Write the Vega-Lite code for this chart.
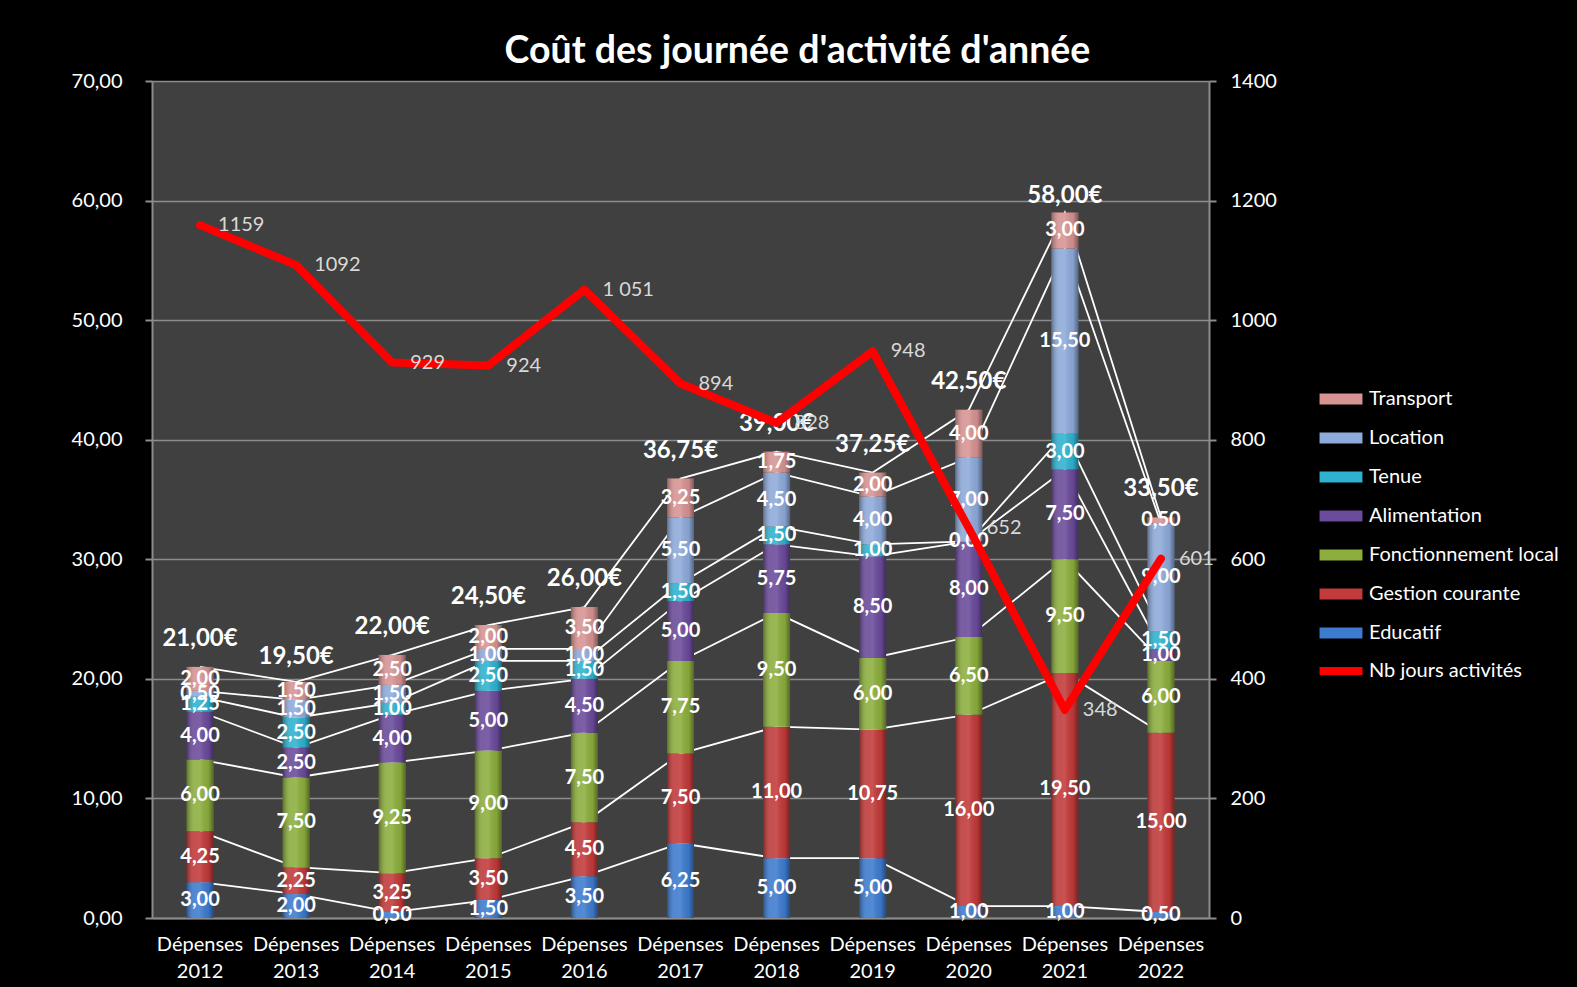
{
  "$schema": "https://vega.github.io/schema/vega-lite/v6.json",
  "width": 1057,
  "height": 837,
  "autosize": {"type": "none"},
  "padding": {"left": 152, "top": 81, "right": 368, "bottom": 69},
  "background": "#000000",
  "title": {
    "text": "Coût des journée d'activité d'année",
    "color": "#ffffff",
    "fontSize": 37.5,
    "fontWeight": "bold",
    "font": "Lato",
    "anchor": "middle",
    "frame": "group",
    "dx": 117,
    "dy": 31,
    "offset": 2,
    "baseline": "alphabetic"
  },
  "datasets": {
    "costs": [
      {"year": "Dépenses 2012", "cat": "Educatif", "k": 1, "v": 3.00},
      {"year": "Dépenses 2012", "cat": "Gestion courante", "k": 2, "v": 4.25},
      {"year": "Dépenses 2012", "cat": "Fonctionnement local", "k": 3, "v": 6.00},
      {"year": "Dépenses 2012", "cat": "Alimentation", "k": 4, "v": 4.00},
      {"year": "Dépenses 2012", "cat": "Tenue", "k": 5, "v": 1.25},
      {"year": "Dépenses 2012", "cat": "Location", "k": 6, "v": 0.50},
      {"year": "Dépenses 2012", "cat": "Transport", "k": 7, "v": 2.00},
      {"year": "Dépenses 2013", "cat": "Educatif", "k": 1, "v": 2.00},
      {"year": "Dépenses 2013", "cat": "Gestion courante", "k": 2, "v": 2.25},
      {"year": "Dépenses 2013", "cat": "Fonctionnement local", "k": 3, "v": 7.50},
      {"year": "Dépenses 2013", "cat": "Alimentation", "k": 4, "v": 2.50},
      {"year": "Dépenses 2013", "cat": "Tenue", "k": 5, "v": 2.50},
      {"year": "Dépenses 2013", "cat": "Location", "k": 6, "v": 1.50},
      {"year": "Dépenses 2013", "cat": "Transport", "k": 7, "v": 1.50},
      {"year": "Dépenses 2014", "cat": "Educatif", "k": 1, "v": 0.50},
      {"year": "Dépenses 2014", "cat": "Gestion courante", "k": 2, "v": 3.25},
      {"year": "Dépenses 2014", "cat": "Fonctionnement local", "k": 3, "v": 9.25},
      {"year": "Dépenses 2014", "cat": "Alimentation", "k": 4, "v": 4.00},
      {"year": "Dépenses 2014", "cat": "Tenue", "k": 5, "v": 1.00},
      {"year": "Dépenses 2014", "cat": "Location", "k": 6, "v": 1.50},
      {"year": "Dépenses 2014", "cat": "Transport", "k": 7, "v": 2.50},
      {"year": "Dépenses 2015", "cat": "Educatif", "k": 1, "v": 1.50},
      {"year": "Dépenses 2015", "cat": "Gestion courante", "k": 2, "v": 3.50},
      {"year": "Dépenses 2015", "cat": "Fonctionnement local", "k": 3, "v": 9.00},
      {"year": "Dépenses 2015", "cat": "Alimentation", "k": 4, "v": 5.00},
      {"year": "Dépenses 2015", "cat": "Tenue", "k": 5, "v": 2.50},
      {"year": "Dépenses 2015", "cat": "Location", "k": 6, "v": 1.00},
      {"year": "Dépenses 2015", "cat": "Transport", "k": 7, "v": 2.00},
      {"year": "Dépenses 2016", "cat": "Educatif", "k": 1, "v": 3.50},
      {"year": "Dépenses 2016", "cat": "Gestion courante", "k": 2, "v": 4.50},
      {"year": "Dépenses 2016", "cat": "Fonctionnement local", "k": 3, "v": 7.50},
      {"year": "Dépenses 2016", "cat": "Alimentation", "k": 4, "v": 4.50},
      {"year": "Dépenses 2016", "cat": "Tenue", "k": 5, "v": 1.50},
      {"year": "Dépenses 2016", "cat": "Location", "k": 6, "v": 1.00},
      {"year": "Dépenses 2016", "cat": "Transport", "k": 7, "v": 3.50},
      {"year": "Dépenses 2017", "cat": "Educatif", "k": 1, "v": 6.25},
      {"year": "Dépenses 2017", "cat": "Gestion courante", "k": 2, "v": 7.50},
      {"year": "Dépenses 2017", "cat": "Fonctionnement local", "k": 3, "v": 7.75},
      {"year": "Dépenses 2017", "cat": "Alimentation", "k": 4, "v": 5.00},
      {"year": "Dépenses 2017", "cat": "Tenue", "k": 5, "v": 1.50},
      {"year": "Dépenses 2017", "cat": "Location", "k": 6, "v": 5.50},
      {"year": "Dépenses 2017", "cat": "Transport", "k": 7, "v": 3.25},
      {"year": "Dépenses 2018", "cat": "Educatif", "k": 1, "v": 5.00},
      {"year": "Dépenses 2018", "cat": "Gestion courante", "k": 2, "v": 11.00},
      {"year": "Dépenses 2018", "cat": "Fonctionnement local", "k": 3, "v": 9.50},
      {"year": "Dépenses 2018", "cat": "Alimentation", "k": 4, "v": 5.75},
      {"year": "Dépenses 2018", "cat": "Tenue", "k": 5, "v": 1.50},
      {"year": "Dépenses 2018", "cat": "Location", "k": 6, "v": 4.50},
      {"year": "Dépenses 2018", "cat": "Transport", "k": 7, "v": 1.75},
      {"year": "Dépenses 2019", "cat": "Educatif", "k": 1, "v": 5.00},
      {"year": "Dépenses 2019", "cat": "Gestion courante", "k": 2, "v": 10.75},
      {"year": "Dépenses 2019", "cat": "Fonctionnement local", "k": 3, "v": 6.00},
      {"year": "Dépenses 2019", "cat": "Alimentation", "k": 4, "v": 8.50},
      {"year": "Dépenses 2019", "cat": "Tenue", "k": 5, "v": 1.00},
      {"year": "Dépenses 2019", "cat": "Location", "k": 6, "v": 4.00},
      {"year": "Dépenses 2019", "cat": "Transport", "k": 7, "v": 2.00},
      {"year": "Dépenses 2020", "cat": "Educatif", "k": 1, "v": 1.00},
      {"year": "Dépenses 2020", "cat": "Gestion courante", "k": 2, "v": 16.00},
      {"year": "Dépenses 2020", "cat": "Fonctionnement local", "k": 3, "v": 6.50},
      {"year": "Dépenses 2020", "cat": "Alimentation", "k": 4, "v": 8.00},
      {"year": "Dépenses 2020", "cat": "Tenue", "k": 5, "v": 0.00},
      {"year": "Dépenses 2020", "cat": "Location", "k": 6, "v": 7.00},
      {"year": "Dépenses 2020", "cat": "Transport", "k": 7, "v": 4.00},
      {"year": "Dépenses 2021", "cat": "Educatif", "k": 1, "v": 1.00},
      {"year": "Dépenses 2021", "cat": "Gestion courante", "k": 2, "v": 19.50},
      {"year": "Dépenses 2021", "cat": "Fonctionnement local", "k": 3, "v": 9.50},
      {"year": "Dépenses 2021", "cat": "Alimentation", "k": 4, "v": 7.50},
      {"year": "Dépenses 2021", "cat": "Tenue", "k": 5, "v": 3.00},
      {"year": "Dépenses 2021", "cat": "Location", "k": 6, "v": 15.50},
      {"year": "Dépenses 2021", "cat": "Transport", "k": 7, "v": 3.00},
      {"year": "Dépenses 2022", "cat": "Educatif", "k": 1, "v": 0.50},
      {"year": "Dépenses 2022", "cat": "Gestion courante", "k": 2, "v": 15.00},
      {"year": "Dépenses 2022", "cat": "Fonctionnement local", "k": 3, "v": 6.00},
      {"year": "Dépenses 2022", "cat": "Alimentation", "k": 4, "v": 1.00},
      {"year": "Dépenses 2022", "cat": "Tenue", "k": 5, "v": 1.50},
      {"year": "Dépenses 2022", "cat": "Location", "k": 6, "v": 9.00},
      {"year": "Dépenses 2022", "cat": "Transport", "k": 7, "v": 0.50}
    ],
    "years": [
      {"year": "Dépenses 2012", "total": 21.00, "days": 1159, "jl": "1159"},
      {"year": "Dépenses 2013", "total": 19.50, "days": 1092, "jl": "1092"},
      {"year": "Dépenses 2014", "total": 22.00, "days": 929, "jl": "929"},
      {"year": "Dépenses 2015", "total": 24.50, "days": 924, "jl": "924"},
      {"year": "Dépenses 2016", "total": 26.00, "days": 1051, "jl": "1 051"},
      {"year": "Dépenses 2017", "total": 36.75, "days": 894, "jl": "894"},
      {"year": "Dépenses 2018", "total": 39.00, "days": 828, "jl": "828"},
      {"year": "Dépenses 2019", "total": 37.25, "days": 948, "jl": "948"},
      {"year": "Dépenses 2020", "total": 42.50, "days": 652, "jl": "652"},
      {"year": "Dépenses 2021", "total": 58.00, "days": 348, "jl": "348"},
      {"year": "Dépenses 2022", "total": 33.50, "days": 601, "jl": "601"}
    ]
  },
  "encoding": {
    "x": {
      "field": "year",
      "type": "nominal",
      "scale": {"paddingInner": 0, "paddingOuter": 0},
      "axis": {
        "title": null,
        "labelExpr": "split(datum.label, ' ')",
        "labelAngle": 0,
        "labelColor": "#ffffff",
        "labelFontSize": 20,
        "labelLineHeight": 27,
        "labelPadding": 16,
        "ticks": false,
        "domain": true,
        "domainColor": "#8c8c8c",
        "domainWidth": 2,
        "labelFont": "Lato"
      }
    }
  },
  "layer": [
    {
      "data": {"name": "costs"},
      "encoding": {
        "y": {
          "field": "v",
          "type": "quantitative",
          "stack": "zero",
          "scale": {"domain": [0, 70]},
          "axis": {
            "title": null,
            "values": [0, 10, 20, 30, 40, 50, 60, 70],
            "format": ".2f",
            "labelColor": "#ffffff",
            "labelFontSize": 20,
            "labelFont": "Lato",
            "labelPadding": 23,
            "tickColor": "#8c8c8c",
            "tickSize": 7,
            "tickWidth": 2,
            "domainColor": "#8c8c8c",
            "domainWidth": 2,
            "grid": true,
            "gridColor": "#8c8c8c",
            "gridWidth": 1.5
          }
        }
      },
      "layer": [
        {
          "transform": [
            {"stack": "v", "groupby": ["year"], "sort": [{"field": "k", "order": "ascending"}], "as": ["v0", "v1"]}
          ],
          "mark": {"type": "line", "color": "#ffffff", "strokeWidth": 1.8},
          "encoding": {
            "y": {"field": "v1", "type": "quantitative", "stack": null},
            "detail": {"field": "cat"}
          }
        },
        {
          "mark": {"type": "bar", "width": 27},
          "encoding": {
            "color": {
              "field": "cat",
              "type": "nominal",
              "scale": {
                "domain": ["Transport", "Location", "Tenue", "Alimentation", "Fonctionnement local", "Gestion courante", "Educatif"],
                "range": ["#d69392", "#8eaada", "#2fb2cf", "#6b4b9b", "#8cae3d", "#c23a3a", "#3d7bcf"]
              },
              "legend": {
                "orient": "none",
                "legendX": 1179,
                "legendY": 308,
                "title": null,
                "padding": 0,
                "symbolType": "M-3.9,-1H3.9V1H-3.9Z",
                "symbolSize": 121,
                "symbolStrokeWidth": 0,
                "labelOffset": 18,
                "labelFontSize": 20,
                "labelFont": "Lato",
                "labelColor": "#ffffff",
                "labelLimit": 300,
                "rowPadding": 19
              }
            },
            "order": {"field": "k", "sort": "ascending"}
          }
        },
        {
          "mark": {
            "type": "bar",
            "width": 27,
            "fill": {
              "gradient": "linear",
              "x1": 0, "y1": 0, "x2": 1, "y2": 0,
              "stops": [
                {"offset": 0, "color": "rgba(0,0,0,0.35)"},
                {"offset": 0.3, "color": "rgba(255,255,255,0.10)"},
                {"offset": 0.5, "color": "rgba(255,255,255,0.12)"},
                {"offset": 0.8, "color": "rgba(0,0,0,0.05)"},
                {"offset": 1, "color": "rgba(0,0,0,0.4)"}
              ]
            }
          },
          "encoding": {
            "detail": {"field": "cat"},
            "order": {"field": "k", "sort": "ascending"}
          }
        },
        {
          "mark": {"type": "text", "color": "#ffffff", "fontSize": 20, "fontWeight": "bold", "font": "Lato", "baseline": "middle"},
          "encoding": {
            "y": {"field": "v", "type": "quantitative", "stack": "zero", "bandPosition": 0.5},
            "detail": {"field": "cat"},
            "order": {"field": "k", "sort": "ascending"},
            "text": {"field": "v", "type": "quantitative", "format": ".2f"}
          }
        },
        {
          "data": {"name": "years"},
          "mark": {"type": "text", "color": "#ffffff", "fontSize": 24, "fontWeight": "bold", "font": "Lato", "baseline": "middle", "dy": -28},
          "encoding": {
            "y": {"field": "total", "type": "quantitative", "stack": null},
            "text": {"field": "total", "type": "quantitative", "format": "$.2f"}
          }
        }
      ]
    },
    {
      "data": {"name": "years"},
      "encoding": {
        "y": {
          "field": "days",
          "type": "quantitative",
          "scale": {"domain": [0, 1400]},
          "axis": {
            "orient": "right",
            "title": null,
            "values": [0, 200, 400, 600, 800, 1000, 1200, 1400],
            "format": "d",
            "grid": false,
            "labelColor": "#ffffff",
            "labelFontSize": 20,
            "labelFont": "Lato",
            "labelPadding": 14,
            "tickColor": "#8c8c8c",
            "tickSize": 7,
            "tickWidth": 2,
            "domainColor": "#8c8c8c",
            "domainWidth": 2
          }
        }
      },
      "layer": [
        {
          "mark": {"type": "line", "strokeWidth": 8, "strokeCap": "round", "strokeJoin": "round"},
          "encoding": {
            "stroke": {
              "datum": "Nb jours activités",
              "type": "nominal",
              "scale": {"range": ["#ff0000"]},
              "legend": {
                "orient": "none",
                "legendX": 1179,
                "legendY": 580,
                "title": null,
                "padding": 0,
                "symbolType": "M-3.9,0H3.9",
                "symbolSize": 121,
                "symbolStrokeWidth": 8,
                "labelOffset": 18,
                "labelFontSize": 20,
                "labelFont": "Lato",
                "labelColor": "#ffffff",
                "labelLimit": 300
              }
            }
          }
        },
        {
          "mark": {"type": "text", "color": "#d9d9d9", "fontSize": 20, "font": "Lato", "align": "left", "baseline": "middle", "dx": 18},
          "encoding": {
            "text": {"field": "jl"}
          }
        }
      ]
    }
  ],
  "resolve": {"scale": {"y": "independent"}},
  "config": {
    "view": {"fill": "#404040", "stroke": null},
    "font": "Lato",
    "locale": {
      "number": {"decimal": ",", "thousands": " ", "grouping": [3], "currency": ["", "€"]}
    }
  }
}
